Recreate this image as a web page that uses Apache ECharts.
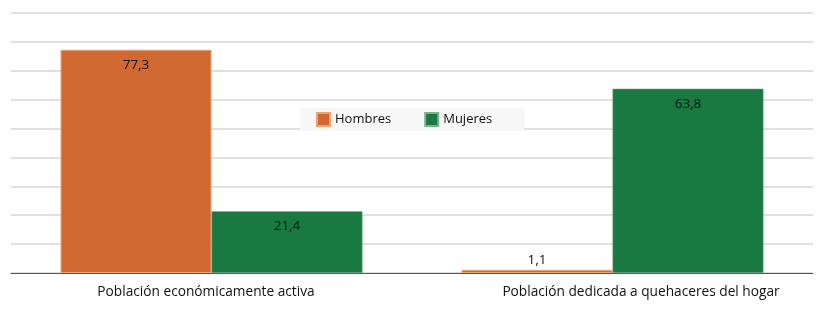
<!DOCTYPE html>
<html><head><meta charset="utf-8">
<script src="https://cdn.jsdelivr.net/npm/echarts@6/dist/echarts.min.js"></script>
<style>html,body{margin:0;padding:0;background:#fff}#c{width:826px;height:312px}</style>
</head><body><div id="c"></div>
<script>
const categories = ['Población económicamente activa', 'Población dedicada a quehaceres del hogar'];
const seriesNames = ['Hombres', 'Mujeres'];
const hombres = [77.3, 1.1];
const mujeres = [21.4, 63.8];
const colors = ['#D06832', '#1A7841'];
const FONT = '"Open Sans", "Noto Sans", sans-serif';
const fmt = p => String(p.value).replace('.', ',');
function mkData(arr){
  return arr.map(v => v < 5 ? {value:v, label:{position:'top', distance:3}} : v);
}
const labelPads = [[0,11,0,0],[0,0,0,57]];
const catData = categories.map((c,i) => ({value:c, textStyle:{padding:labelPads[i]}}));
const chart = echarts.init(document.getElementById('c'));
chart.setOption({
  animation:false,
  textStyle:{fontFamily:FONT},
  grid:{left:11,right:13,top:13,bottom:39,containLabel:false},
  legend:{
    left:300, top:108, itemWidth:13, itemHeight:13, itemGap:33,
    padding:[4,32,4,16], backgroundColor:'#f7f7f7',
    textStyle:{fontFamily:FONT,fontSize:13,color:'#111'},
    icon:'rect', data:seriesNames
  },
  xAxis:{
    type:'category', data:catData,
    axisLine:{lineStyle:{color:'#555',width:1}},
    axisTick:{show:false},
    axisLabel:{fontFamily:FONT,fontSize:13.7,color:'#111',margin:12,interval:0}
  },
  yAxis:{
    type:'value', min:0, max:90, interval:10,
    axisLabel:{show:false}, axisLine:{show:false}, axisTick:{show:false},
    splitLine:{lineStyle:{color:'#d6d6d6',width:1.5}}
  },
  series:[
    {name:seriesNames[0], type:'bar', data:mkData(hombres), barGap:'0%', barCategoryGap:'24.7%',
     itemStyle:{color:colors[0], borderColor:'#e8a57a', borderWidth:1},
     label:{show:true, position:'insideTop', distance:8, formatter:fmt, fontFamily:FONT, fontSize:13.5, color:'#111'}},
    {name:seriesNames[1], type:'bar', data:mkData(mujeres), barGap:'0%', barCategoryGap:'24.7%',
     itemStyle:{color:colors[1], borderColor:'#7fae8f', borderWidth:0.5},
     label:{show:true, position:'insideTop', distance:8, formatter:fmt, fontFamily:FONT, fontSize:13.5, color:'#111'}}
  ]
});
</script></body></html>
